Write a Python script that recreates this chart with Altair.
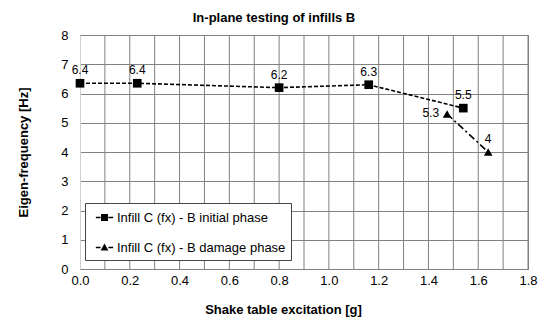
import altair as alt
import pandas as pd

series_names = ["Infill C (fx) - B initial phase", "Infill C (fx) - B damage phase"]
init_x = [0.0, 0.23, 0.80, 1.16, 1.54]
init_y = [6.35, 6.35, 6.2, 6.3, 5.5]
init_lbl = ["6.4", "6.4", "6.2", "6.3", "5.5"]
dmg_x = [1.475, 1.64]
dmg_y = [5.3, 4.0]
dmg_lbl = ["5.3", "4"]
x_grid = [round(i * 0.1, 1) for i in range(1, 19)]
x_labels = [round(i * 0.2, 1) for i in range(10)]
y_ticks = [0, 1, 2, 3, 4, 5, 6, 7, 8]

rows = []
for i, (x, y, l) in enumerate(zip(init_x, init_y, init_lbl)):
    rows.append(dict(series=series_names[0], x=x, y=y, lbl=l, idx=i))
for i, (x, y, l) in enumerate(zip(dmg_x, dmg_y, dmg_lbl)):
    rows.append(dict(series=series_names[1], x=x, y=y, lbl=l, idx=i))
df = pd.DataFrame(rows)
grid_df = pd.DataFrame({"x": x_grid})

FONT = "Liberation Sans"
dash = "M-1,-0.09H-0.45V0.09H-1ZM0.45,-0.09H1V0.09H0.45Z"
sq_path = dash + "M-0.4,-0.4H0.4V0.4H-0.4Z"
tri_path = dash + "M0,-0.45L0.45,0.35H-0.45Z"

xscale = alt.Scale(domain=[0, 1.8], nice=False, zero=False)
x_axis = alt.Axis(values=x_labels, title="Shake table excitation [g]", format=".1f",
                  labelFlush=False, labelOverlap=False, grid=False,
                  titleX=203, titleY=40, titleBaseline="middle",
                  labelPadding=5, ticks=False, domainColor="#808080")
xs = alt.X("x:Q", scale=xscale, axis=x_axis, title="Shake table excitation [g]")
ys = alt.Y("y:Q", scale=alt.Scale(domain=[0, 8], nice=False),
           axis=alt.Axis(values=y_ticks, title="Eigen-frequency [Hz]",
                         titleX=-57, titleY=117, titleBaseline="middle",
                         labelPadding=12, ticks=False, domainColor="#d0d0d0"))

grid = alt.Chart(grid_df).mark_rule(color="#808080", strokeWidth=1).encode(x=xs)

base = alt.Chart(df).encode(x=xs, y=ys)

line_init = base.transform_filter(alt.datum.series == series_names[0]).mark_line(
    color="black", strokeDash=[4, 2], strokeWidth=1.6)
line_dmg = base.transform_filter(alt.datum.series == series_names[1]).mark_line(
    color="black", strokeDash=[7, 3, 2, 3], strokeWidth=1.6)

points = base.mark_point(filled=True, color="black", size=75, opacity=1).encode(
    shape=alt.Shape("series:N", scale=alt.Scale(domain=series_names, range=["square", "triangle-up"]),
                    legend=None))

legend_layer = base.mark_point(filled=True, color="black", opacity=0, size=10).encode(
    shape=alt.Shape("series:N", scale=alt.Scale(domain=series_names, range=[sq_path, tri_path]),
                    legend=alt.Legend(title=None, orient="none", legendX=5, legendY=168,
                                      fillColor="white", strokeColor="#444444", padding=5,
                                      labelFont=FONT, labelFontSize=13, labelColor="black",
                                      labelLimit=400, symbolOffset=5,
                                      symbolSize=300, symbolOpacity=1, symbolFillColor="black",
                                      rowPadding=13, labelOffset=3, cornerRadius=0)))

is_left = (alt.datum.series == series_names[1]) & (alt.datum.idx == 0)
text_above = base.transform_filter(~is_left).mark_text(
    font=FONT, fontSize=12, color="black", dy=-13).encode(text="lbl:N")
text_left = base.transform_filter(is_left).mark_text(
    font=FONT, fontSize=12, color="black", align="right", dx=-8, dy=-1).encode(text="lbl:N")

chart = alt.layer(grid, line_init, line_dmg, points, legend_layer, text_above, text_left).resolve_scale(
    shape="independent"
).properties(
    width=448, height=234,
    autosize=alt.AutoSizeParams(type="none"),
    padding={"left": 72, "top": 27, "right": 14, "bottom": 50},
    title=alt.TitleParams("In-plane testing of infills B", font=FONT, fontSize=13,
                          fontWeight="bold", anchor="middle", dx=-30, offset=4, color="black"),
).configure_view(stroke="#808080", strokeWidth=1).configure_axis(
    labelFont=FONT, labelFontSize=13, labelColor="black",
    titleFont=FONT, titleFontSize=13, titleFontWeight="bold", titleColor="black",
    gridColor="#808080", gridWidth=1, gridOpacity=1,
)

chart.save("out.html", embed_options={"renderer": "svg", "actions": False})
